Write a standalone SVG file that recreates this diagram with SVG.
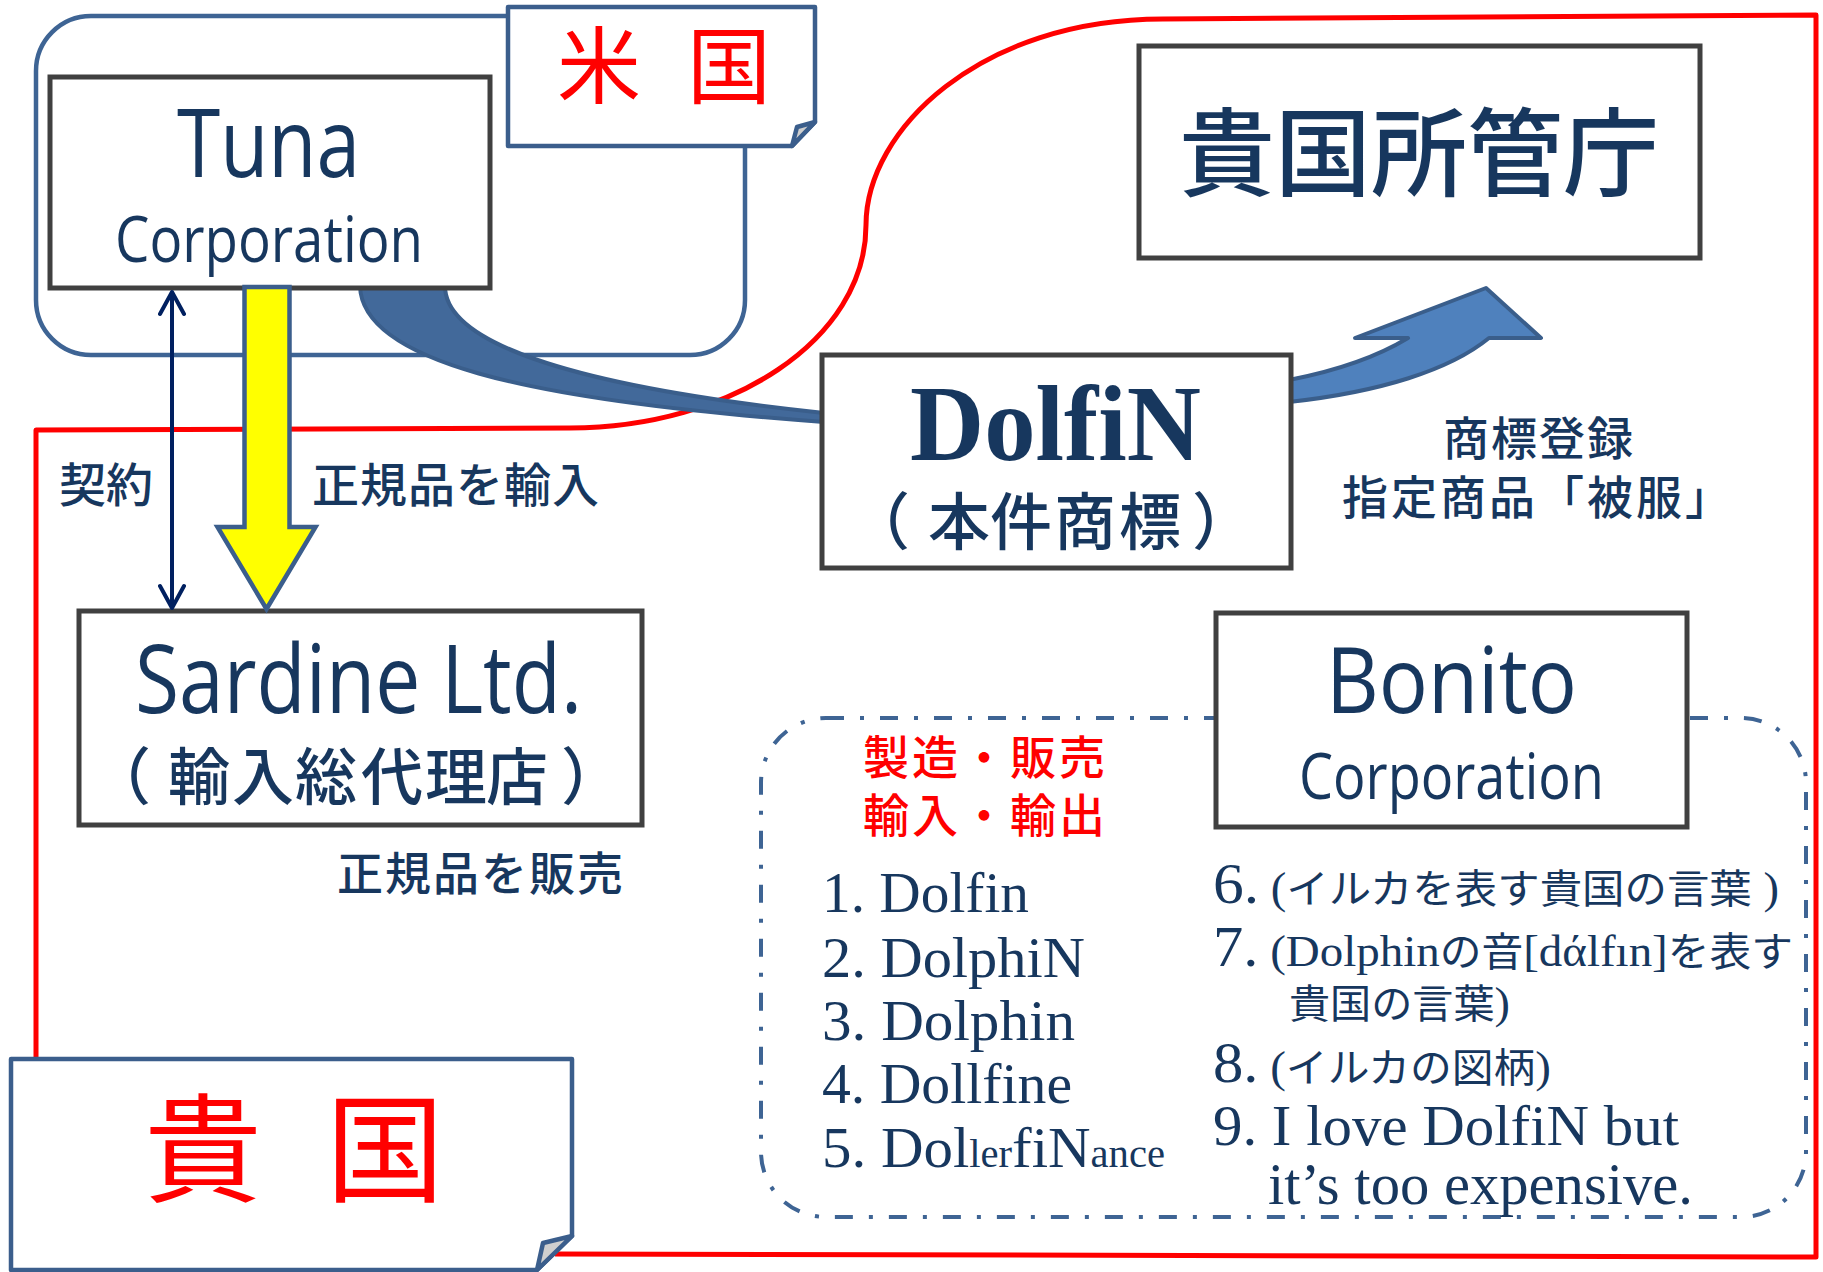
<svg xmlns="http://www.w3.org/2000/svg" width="1823" height="1272" viewBox="0 0 1823 1272">
<defs>
<style>
.box{fill:#fff;stroke:#404040;stroke-width:5}
.note{fill:#fff;stroke:#3B5E8C;stroke-width:4.5;stroke-linejoin:round}
.flap{fill:#CFCFCF;stroke:#3B5E8C;stroke-width:4.5;stroke-linejoin:round}
.region{fill:none;stroke:#3E6494;stroke-width:4.5}
.dashdot{fill:none;stroke:#3E6494;stroke-width:4;stroke-dasharray:18 16 4 16}
.red{fill:none;stroke:#FF0000;stroke-width:5;stroke-linejoin:round}
.sans{font-family:"Open Sans","Noto Sans CJK JP",sans-serif;fill:#17375E}
.jp{font-family:"Noto Sans CJK JP",sans-serif;fill:#17375E;font-weight:500}
.serif{font-family:"Liberation Serif","Noto Sans CJK JP",serif;fill:#17375E}
.cjk{font-family:"Noto Sans CJK JP",sans-serif}
.redtext{fill:#FF0000}
.band{stroke:#3A5E8B;stroke-width:4;stroke-linejoin:round}
</style>
<marker id="chev" viewBox="-26 -14 30 28" markerWidth="30" markerHeight="28" refX="0" refY="0" orient="auto-start-reverse" markerUnits="userSpaceOnUse">
<path d="M -22 -12 L 0 0 L -22 12" fill="none" stroke="#002060" stroke-width="4" stroke-linecap="round" stroke-linejoin="round"/>
</marker>
</defs>
<rect width="1823" height="1272" fill="#fff"/>

<g id="regions">
<path id="region-kikoku" class="red" d="M 36 1062 V 430 L 570 428 C 730 428 866 340 866 225 C 866 130 980 19 1163 19 L 1816 15 V 1257 L 555 1254"/>
<rect id="region-us" class="region" x="36" y="16" width="709" height="339" rx="55" ry="55"/>
<rect id="region-bonito" class="dashdot" x="761" y="718" width="1045" height="499" rx="65" ry="65"/>
</g>

<g id="connectors">
<path id="band-tuna-dolfin" class="band" fill="#42699A" d="M 360 286 C 362 360 520 400 824 422 L 824 413 C 560 385 445 340 445 286 Z"/>
<path id="arrow-registration" class="band" fill="#4F81BD" d="M 1289 380 C 1330 372 1375 358 1408 338 L 1355 338 L 1486 288 L 1541 338 L 1489 338 C 1450 370 1380 392 1289 402 Z"/>
</g>

<g id="node-tuna">
<rect class="box" x="50" y="77" width="440" height="211"/>
<text class="sans" x="177" y="177" font-size="96" textLength="183" lengthAdjust="spacingAndGlyphs">Tuna</text>
<text class="sans" x="115" y="262" font-size="64" textLength="308" lengthAdjust="spacingAndGlyphs">Corporation</text>
</g>

<g id="node-office">
<rect class="box" x="1139" y="46" width="561" height="212"/>
<text class="jp" x="1179" y="188" font-size="96">貴国所管庁</text>
</g>

<g id="node-dolfin">
<rect class="box" x="822" y="355" width="469" height="213"/>
<text class="serif" x="910" y="460" font-size="107" font-weight="bold" textLength="291" lengthAdjust="spacingAndGlyphs">DolfiN</text>
<text class="jp" y="545" font-size="62" x="848 928 990 1054 1119 1192">（本件商標）</text>
</g>

<g id="node-sardine">
<rect class="box" x="79" y="611" width="563" height="214"/>
<text class="sans" x="135" y="713" font-size="96" textLength="447" lengthAdjust="spacingAndGlyphs">Sardine Ltd.</text>
<text class="jp" y="800" font-size="62" x="89 168 232 295 361 425 486 561">（輸入総代理店）</text>
</g>

<g id="node-bonito">
<rect class="box" x="1216" y="613" width="471" height="214"/>
<text class="sans" x="1326" y="713" font-size="92" textLength="251" lengthAdjust="spacingAndGlyphs">Bonito</text>
<text class="sans" x="1299" y="799" font-size="64" textLength="305" lengthAdjust="spacingAndGlyphs">Corporation</text>
</g>

<g id="connectors-arrows">
<path id="arrow-import" fill="#FFFF00" stroke="#3B5E8C" stroke-width="4.5" stroke-linejoin="miter" d="M 244.5 287 H 289.5 V 527 H 315.5 L 266.5 609 L 217.5 527 H 244.5 Z"/>
<line id="arrow-contract" x1="172" y1="292" x2="172" y2="608" stroke="#002060" stroke-width="4" marker-start="url(#chev)" marker-end="url(#chev)"/>
</g>

<g id="note-us">
<path class="note" d="M 508 7 H 815 V 122 L 792 146 H 508 Z"/>
<path class="flap" d="M 815 122 L 797 127 L 792 146 Z"/>
<text class="cjk redtext" x="557" y="97" font-size="84" letter-spacing="-19">米　国</text>
</g>

<g id="note-kikoku">
<path class="note" d="M 11 1059 H 572 V 1236 L 537 1270 H 11 Z"/>
<path class="flap" d="M 572 1236 L 543 1243 L 537 1270 Z"/>
<text class="cjk redtext" x="144" y="1193" font-size="118" letter-spacing="-27">貴　国</text>
</g>

<g id="labels">
<text class="jp" x="59" y="502" font-size="47">契約</text>
<text class="jp" x="312" y="502" font-size="47" letter-spacing="1">正規品を輸入</text>
<text class="jp" x="337" y="890" font-size="46" letter-spacing="2">正規品を販売</text>
<text class="jp" x="1443" y="455" font-size="46" letter-spacing="2">商標登録</text>
<text class="jp" x="1342" y="514" font-size="46" letter-spacing="3">指定商品「被服」</text>
<text class="cjk redtext" x="863" y="774" font-size="46" letter-spacing="3" font-weight="500">製造・販売</text>
<text class="cjk redtext" x="863" y="832" font-size="46" letter-spacing="3" font-weight="500">輸入・輸出</text>
</g>

<g id="list-left" class="serif" font-size="58">
<text x="822" y="912" textLength="207" lengthAdjust="spacingAndGlyphs">1. Dolfin</text>
<text x="822" y="977" textLength="263" lengthAdjust="spacingAndGlyphs">2. DolphiN</text>
<text x="822" y="1040" textLength="253" lengthAdjust="spacingAndGlyphs">3. Dolphin</text>
<text x="822" y="1103" textLength="250" lengthAdjust="spacingAndGlyphs">4. Dollfine</text>
<text x="822" y="1167" textLength="343" lengthAdjust="spacingAndGlyphs">5. Dol<tspan font-size="40">ler</tspan>fiN<tspan font-size="40">ance</tspan></text>
</g>

<g id="list-right" class="serif" font-size="58">
<text x="1213" y="903" textLength="566" lengthAdjust="spacingAndGlyphs">6.<tspan font-size="44"> (</tspan><tspan class="cjk" font-size="40">イルカを表す貴国の言葉</tspan><tspan font-size="44"> )</tspan></text>
<text x="1213" y="966" textLength="580" lengthAdjust="spacingAndGlyphs">7.<tspan font-size="45"> (Dolphin</tspan><tspan class="cjk" font-size="40">の音</tspan><tspan font-size="45">[dάlfın]</tspan><tspan class="cjk" font-size="40">を表す</tspan></text>
<text x="1289" y="1018" textLength="221" lengthAdjust="spacingAndGlyphs"><tspan class="cjk" font-size="40">貴国の言葉</tspan><tspan font-size="45">)</tspan></text>
<text x="1213" y="1082" textLength="338" lengthAdjust="spacingAndGlyphs">8.<tspan font-size="45"> (</tspan><tspan class="cjk" font-size="40">イルカの図柄</tspan><tspan font-size="45">)</tspan></text>
<text x="1213" y="1145" textLength="466" lengthAdjust="spacingAndGlyphs">9. I love DolfiN but</text>
<text x="1268" y="1204" font-size="59" textLength="425" lengthAdjust="spacingAndGlyphs">it’s too expensive.</text>
</g>
</svg>
